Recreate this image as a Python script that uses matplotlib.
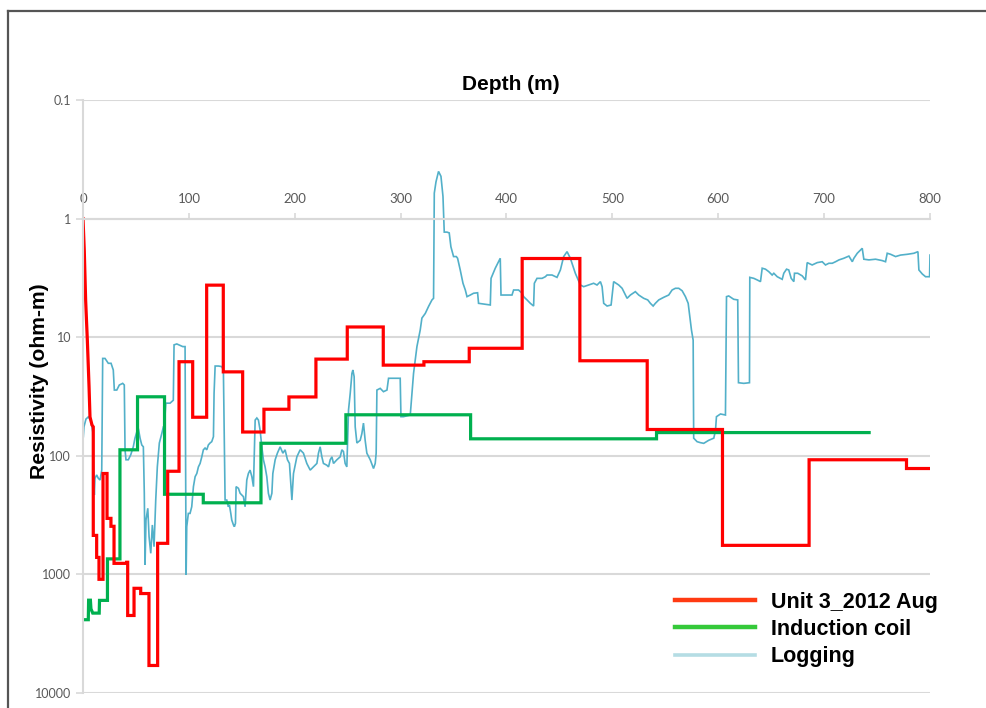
import matplotlib
matplotlib.use("Agg")
import matplotlib.pyplot as plt
from matplotlib.lines import Line2D
from matplotlib.ticker import FixedLocator, FixedFormatter, NullLocator

# depth (m), resistivity (ohm-m) vertices for each profile
unit3_points = [
    (0, 1.0), (1.2, 1.85), (2.5, 4.9), (4.1, 10.6), (5.7, 26), (6.6, 47), (8.5, 55), (9.7, 57),
    (9.7, 469), (12.9, 469), (12.9, 719), (15.1, 719), (15.1, 1100), (18.9, 1100), (18.9, 141),
    (22.7, 141), (22.7, 337), (26.4, 337), (26.4, 393), (29.3, 393), (29.3, 807), (41.3, 807),
    (41.3, 790), (42.2, 790), (42.2, 2220), (48.2, 2220), (48.2, 1310), (54.5, 1310), (54.5, 1450),
    (62.3, 1450), (62.3, 5860), (70.5, 5860), (70.5, 547), (80, 547), (80, 135), (90.7, 135),
    (90.7, 16.1), (103.6, 16.1), (103.6, 47.3), (116.8, 47.3), (116.8, 3.64), (132.5, 3.64),
    (132.5, 19.6), (150.8, 19.6), (150.8, 63), (170.9, 63), (170.9, 40.5), (194.5, 40.5),
    (194.5, 31.9), (220, 31.9), (220, 15.3), (249.6, 15.3), (249.6, 8.2), (283.6, 8.2),
    (283.6, 17.2), (322, 17.2), (322, 16.1), (364.8, 16.1), (364.8, 12.4), (414.8, 12.4),
    (414.8, 2.17), (469.3, 2.17), (469.3, 15.8), (532.9, 15.8), (532.9, 60), (604, 60),
    (604, 569), (685.8, 569), (685.8, 108), (777.8, 108), (777.8, 128), (800, 128),
]

induction_points = [
    (0, 2410), (5, 2410), (5.3, 1650), (7.0, 1650), (7.5, 1950), (9.2, 2120), (15.3, 2120),
    (15.6, 1656), (23.1, 1656), (23.1, 740), (34.9, 740), (34.9, 89), (51.5, 89), (51.5, 31.8),
    (77, 31.8), (77, 211), (113.6, 211), (113.6, 249), (168.1, 249), (168.1, 78.4),
    (248.3, 78.4), (248.3, 45.1), (366.1, 45.1), (366.1, 71.9), (541.7, 71.9), (541.7, 63.7),
    (742.5, 63.7),
]

logging_points = [
    (0.3, 69), (0.9, 57), (2.8, 49), (5.0, 47), (7.3, 50), (9.2, 63), (9.7, 108), (10.7, 214),
    (11.3, 155), (12.9, 145), (14.5, 155), (16.1, 160), (17.7, 132), (18.6, 15.1), (20.8, 15.1),
    (23.9, 16.6), (26.5, 16.6), (28.6, 18.9), (29.6, 27.9), (31.9, 27.9), (34.3, 25.3),
    (37.5, 24.5), (39.0, 25.3), (39.7, 89), (40.6, 108), (42.8, 108), (45.1, 98), (47.5, 84),
    (49.1, 71), (50.8, 63), (52.3, 59), (53.9, 71), (55.5, 81), (57.0, 84), (57.9, 207),
    (58.6, 833), (59.5, 348), (61.2, 277), (62.4, 481), (64.0, 664), (65.5, 383), (67.1, 584),
    (68.7, 236), (70.2, 124), (72.1, 78), (74.4, 65), (75.9, 57), (76.8, 57), (78.2, 36),
    (82.2, 36), (85.3, 34), (86.0, 11.6), (88.6, 11.4), (94.2, 12.0), (96.4, 12.0),
    (97.4, 1010), (98.0, 396), (99.5, 306), (101.1, 306), (102.7, 269), (104.3, 182),
    (105.9, 150), (107.5, 141), (109.0, 124), (110.6, 116), (112.2, 102), (113.7, 89),
    (115.3, 86), (116.9, 89), (118.4, 81), (120.0, 78), (121.6, 76), (123.2, 69), (123.8, 29.7),
    (124.8, 17.5), (127.9, 17.5), (131.1, 17.7), (132.6, 18.9), (134.2, 236), (135.8, 236),
    (137.3, 269), (138.3, 260), (139.6, 306), (140.5, 348), (142.1, 383), (143.0, 396),
    (144.0, 371), (144.6, 182), (146.8, 188), (148.4, 207), (150.0, 214), (151.5, 221),
    (153.1, 269), (154.7, 160), (156.2, 141), (157.8, 132), (159.5, 150), (161.0, 182),
    (162.6, 50), (164.2, 48), (165.7, 50), (167.3, 61), (168.9, 84), (170.4, 108), (172.0, 124),
    (173.6, 150), (175.1, 207), (176.7, 236), (178.4, 207), (179.3, 141), (181.5, 108),
    (183.6, 95), (186.2, 84), (188.8, 95), (190.9, 89), (193.1, 108), (195.0, 116),
    (197.3, 236), (198.8, 141), (202.0, 102), (205.1, 89), (208.2, 95), (211.4, 116),
    (214.6, 132), (217.7, 124), (220.9, 116), (222.4, 95), (224.0, 84), (225.6, 102),
    (227.1, 116), (230.3, 120), (231.9, 124), (233.5, 108), (235.1, 102), (236.6, 116),
    (239.8, 108), (242.9, 102), (244.5, 89), (246.0, 92), (247.6, 116), (249.2, 124),
    (250.8, 41), (252.4, 29.7), (254.0, 20.2), (254.9, 18.9), (256.1, 21.5), (257.1, 57),
    (258.7, 78), (260.2, 76), (261.8, 74), (263.4, 65), (264.9, 53), (266.5, 74), (268.1, 95),
    (271.3, 108), (274.4, 128), (276.0, 116), (276.9, 95), (277.6, 27.9), (280.7, 27.0),
    (283.8, 28.8), (287.1, 27.9), (288.6, 22.2), (299.6, 22.2), (300.3, 46.8), (302.7, 46.8),
    (309.1, 45.3), (310.7, 29.7), (312.2, 20.2), (315.4, 12.0), (318.5, 8.7), (320.1, 6.9),
    (323.3, 6.3), (326.4, 5.5), (329.6, 4.85), (331.1, 4.7), (331.8, 0.61), (333.4, 0.49),
    (335.8, 0.40), (338.1, 0.44), (340.0, 0.65), (341.2, 1.30), (343.8, 1.30), (345.9, 1.32),
    (347.5, 1.73), (350.0, 2.09), (352.6, 2.09), (353.8, 2.16), (356.3, 2.71), (358.9, 3.51),
    (361.1, 4.0), (362.7, 4.55), (365.8, 4.41), (368.9, 4.26), (372.7, 4.22), (373.6, 5.18),
    (378.4, 5.25), (384.7, 5.35), (385.4, 3.19), (389.4, 2.62), (394.1, 2.16), (394.8, 4.41),
    (405.2, 4.41), (406.7, 4.0), (411.4, 4.0), (414.7, 4.26), (416.2, 4.55), (419.4, 4.85),
    (422.5, 5.18), (425.6, 5.46), (426.3, 3.51), (428.8, 3.19), (433.6, 3.19), (436.7, 3.09),
    (438.3, 2.99), (443.0, 2.99), (447.7, 3.13), (450.9, 2.71), (454.0, 2.09), (457.2, 1.90),
    (460.3, 2.16), (465.0, 2.89), (469.8, 3.63), (472.9, 3.75), (477.6, 3.63), (482.3, 3.51),
    (485.5, 3.63), (488.7, 3.40), (490.3, 3.75), (491.8, 5.18), (495.0, 5.46), (498.8, 5.35),
    (501.2, 3.40), (506.0, 3.63), (509.2, 3.87), (512.3, 4.41), (513.9, 4.70), (517.0, 4.41),
    (521.7, 4.13), (524.9, 4.41), (529.6, 4.70), (533.4, 4.85), (535.9, 5.18), (538.5, 5.46),
    (540.6, 5.18), (543.8, 4.85), (548.5, 4.61), (553.2, 4.41), (556.4, 4.0), (559.5, 3.87),
    (562.7, 3.87), (565.9, 4.06), (569.0, 4.55), (571.6, 5.18), (573.1, 6.71), (574.7, 8.7),
    (576.3, 10.6), (576.8, 71), (580.0, 76), (583.2, 77.5), (586.3, 78.5), (591.0, 74),
    (595.8, 71), (597.4, 61), (598.3, 46.8), (602.1, 44.4), (606.8, 45.3), (607.8, 4.55),
    (609.9, 4.49), (614.6, 4.79), (618.4, 4.85), (619.1, 24.2), (624.1, 24.5), (629.5, 24.2),
    (629.8, 3.13), (633.6, 3.19), (636.8, 3.29), (639.9, 3.40), (641.5, 2.62), (644.6, 2.67),
    (647.7, 2.80), (650.9, 2.99), (652.5, 2.89), (655.7, 3.09), (660.4, 3.25), (661.9, 2.89),
    (664.5, 2.67), (666.6, 2.71), (668.9, 3.19), (671.4, 3.40), (672.0, 2.89), (675.1, 2.89),
    (679.3, 3.04), (682.4, 3.29), (684.0, 2.35), (688.7, 2.46), (693.5, 2.35), (698.2, 2.31),
    (701.3, 2.46), (704.5, 2.38), (707.7, 2.38), (710.8, 2.31), (714.0, 2.23), (718.6, 2.16),
    (723.4, 2.07), (726.6, 2.31), (728.1, 2.16), (731.3, 1.96), (734.4, 1.84), (736.0, 1.78),
    (737.5, 2.20), (742.3, 2.23), (748.6, 2.20), (754.9, 2.26), (758.0, 2.31), (759.6, 1.96),
    (762.8, 2.00), (767.5, 2.09), (772.2, 2.03), (778.5, 2.00), (784.8, 1.96), (788.6, 1.90),
    (789.5, 2.71), (792.7, 2.93), (795.8, 3.09), (799.6, 3.09), (800.0, 2.03),
]

depth_ticks = [0, 100, 200, 300, 400, 500, 600, 700, 800]
res_ticks = [0.1, 1, 10, 100, 1000, 10000]
res_labels = ["0.1", "1", "10", "100", "1000", "10000"]

series_names = ["Unit 3_2012 Aug", "Induction coil", "Logging"]
line_colors = ["#ff0000", "#00b04f", "#52b0c9"]
legend_colors = ["#ff3a12", "#35c93a", "#b5dde4"]

GRID = "#d9d9d9"
LABEL = "#595959"

fig = plt.figure(figsize=(9.87, 7.08), dpi=100)
ax = fig.add_axes([83 / 987, 1 - 693 / 708, 847 / 987, 593 / 708])

for pts, col, lw in zip([logging_points, induction_points, unit3_points],
                        [line_colors[2], line_colors[1], line_colors[0]],
                        [1.2, 2.3, 2.3]):
    d, r = zip(*pts)
    ax.plot(d, r, color=col, lw=lw, solid_joinstyle="miter")

ax.set_yscale("log")
ax.set_ylim(10000, 0.1)
ax.set_xlim(0, 800)

ax.yaxis.set_major_locator(FixedLocator(res_ticks))
ax.yaxis.set_major_formatter(FixedFormatter(res_labels))
ax.yaxis.set_minor_locator(NullLocator())
ax.grid(axis="y", color=GRID, lw=1.5)
ax.grid(axis="x", visible=False)
ax.tick_params(axis="y", colors=GRID, labelcolor=LABEL, labelsize=9, length=5, width=1.2)
for t in ax.get_yticklabels():
    t.set_family("Lato")

# depth axis sits on the 1 ohm-m line with labels above
ax.xaxis.tick_top()
ax.spines["top"].set_position(("data", 1))
ax.spines["top"].set_color(GRID)
ax.spines["top"].set_linewidth(1.5)
ax.spines["left"].set_color(GRID)
ax.spines["left"].set_linewidth(1.5)
ax.spines["right"].set_visible(False)
ax.spines["bottom"].set_visible(False)
ax.set_xticks(depth_ticks)
ax.tick_params(axis="x", colors=GRID, labelcolor=LABEL, labelsize=9.5, length=4, width=1.2, pad=6)
for t in ax.get_xticklabels():
    t.set_family("Lato")

fig.text(511 / 987, 1 - 84 / 708, "Depth (m)", ha="center", va="center",
         fontsize=15, fontweight="bold", family="Liberation Sans")
fig.text(40 / 987, 1 - 381 / 708, "Resistivity (ohm-m)", ha="center", va="center",
         rotation=90, fontsize=15.2, fontweight="bold", family="Liberation Sans")

handles = [Line2D([], [], color=legend_colors[0], lw=3.2),
           Line2D([], [], color=legend_colors[1], lw=3.2),
           Line2D([], [], color=legend_colors[2], lw=2.6)]
ax.legend(handles, series_names, loc="upper left", bbox_to_anchor=(675 / 987, 1 - 592 / 708),
          bbox_transform=fig.transFigure, frameon=False, borderpad=0, borderaxespad=0,
          handlelength=3.7, handletextpad=0.74, labelspacing=0.28,
          prop={"family": "Liberation Sans", "weight": "bold", "size": 15.5})

# dark frame along top and left edges
fig.add_artist(Line2D([8 / 987, 1], [1 - 11 / 708, 1 - 11 / 708], color="#555555", lw=1.6))
fig.add_artist(Line2D([8 / 987, 8 / 987], [0, 1 - 11 / 708], color="#555555", lw=1.6))

fig.savefig("out.png", dpi=100)
